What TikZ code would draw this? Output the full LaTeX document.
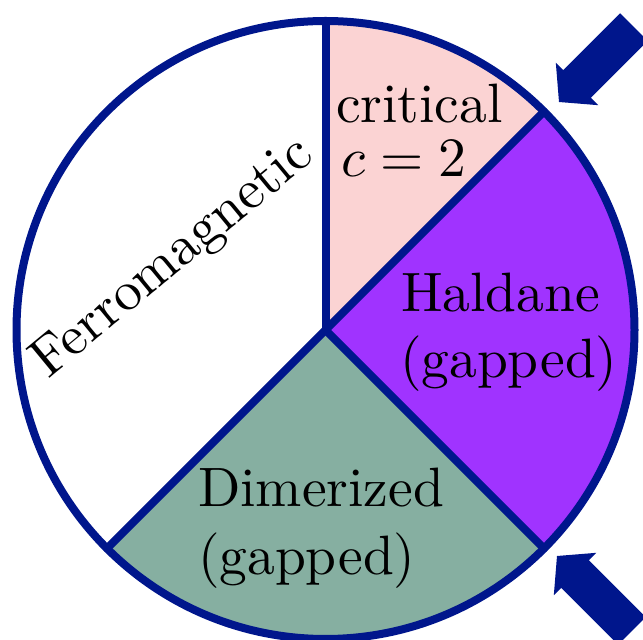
\documentclass[tikz,border=0pt]{standalone}
\usetikzlibrary{calc}
\definecolor{navyc}{RGB}{0,22,140}
\definecolor{pinkc}{RGB}{251,211,211}
\definecolor{purplec}{RGB}{160,51,255}
\definecolor{greenc}{RGB}{134,175,161}
\begin{document}
\begin{tikzpicture}[x=1pt,y=1pt,
  lbl/.style={inner sep=0pt, outer sep=0pt, scale=5.55, text=black},
  edge/.style={draw=navyc, line width=8pt, line cap=round},
  fatarrow/.style={fill=navyc}]
\clip (0,0) rectangle (643,640);
\coordinate (C) at (325.5,310);
\path (C) ++(90:309pt) coordinate (N);
\path (C) ++(45:309pt) coordinate (NE);
\path (C) ++(-45:309pt) coordinate (SE);
\path (C) ++(225:309pt) coordinate (SW);
% sectors
\fill[white] (C) -- (N) arc[start angle=90, end angle=225, radius=309pt] -- cycle;
\fill[pinkc] (C) -- (NE) arc[start angle=45, end angle=90, radius=309pt] -- cycle;
\fill[purplec] (C) -- (SE) arc[start angle=-45, end angle=45, radius=309pt] -- cycle;
\fill[greenc] (C) -- (SW) arc[start angle=-135, end angle=-45, radius=309pt] -- cycle;
% borders
\draw[edge] (C) -- (N);
\draw[edge] (C) -- (NE);
\draw[edge] (C) -- (SE);
\draw[edge] (C) -- (SW);
\draw[edge] (C) circle[radius=309pt];
% labels
\node[lbl, anchor=base west] (crit1) at (336,517) {critical};
\node[lbl, anchor=base west] (crit2) at (341,463) {$c=2$};
\node[lbl, anchor=base west] (hal1) at (401,328) {Haldane};
\node[lbl, anchor=base west] (hal2) at (400,262) {(gapped)};
\node[lbl, anchor=base west] (dim1) at (198,133) {Dimerized};
\node[lbl, anchor=base west] (dim2) at (198,65) {(gapped)};
\node[lbl, anchor=base, rotate=39.5] (ferro) at (182,371) {Ferromagnetic};
% arrows
\begin{scope}[shift={(559,538)}, rotate=45]
\fill[fatarrow] (0,0) -- (25.5,30) -- (25.5,19.5) -- (106,19.5) -- (106,-19.5) -- (25.5,-19.5) -- (25.5,-30) -- cycle;
\end{scope}
\begin{scope}[shift={(557,84)}, rotate=-45]
\fill[fatarrow] (0,0) -- (25.5,30) -- (25.5,19.5) -- (106,19.5) -- (106,-19.5) -- (25.5,-19.5) -- (25.5,-30) -- cycle;
\end{scope}
\end{tikzpicture}
\end{document}
